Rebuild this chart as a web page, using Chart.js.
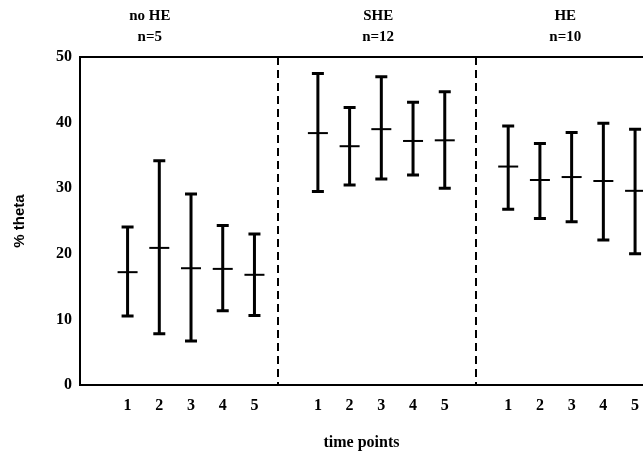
<!DOCTYPE html>
<html>
<head>
<meta charset="utf-8">
<script src="https://cdn.jsdelivr.net/npm/chart.js@4"></script>
<style>
html, body { margin: 0; padding: 0; background: #fff; }
#wrap { width: 643px; height: 455px; position: relative; }
</style>
</head>
<body>
<div id="wrap"><canvas id="chart"></canvas></div>
<script>
// ------------------------
// Data
// ------------------------
const groups = ["no HE", "SHE", "HE"];
const groupN = ["n=5", "n=12", "n=10"];
const groupLabelX = [1.7, 8.9, 14.8];
const timePoints = ["1", "2", "3", "4", "5"];
const xPositions = [1, 2, 3, 4, 5, 7, 8, 9, 10, 11, 13, 14, 15, 16, 17];
const dividers = [5.75, 12];
const means = [17.2, 20.9, 17.8, 17.7, 16.8, 38.4, 36.4, 39.0, 37.2, 37.3, 33.3, 31.25, 31.7, 31.1, 29.6];
const upper = [24.1, 34.2, 29.1, 24.3, 23.0, 47.5, 42.3, 47.0, 43.1, 44.7, 39.5, 36.8, 38.5, 39.9, 39.0];
const lower = [10.5, 7.8, 6.7, 11.3, 10.6, 29.5, 30.5, 31.4, 32.0, 30.0, 26.8, 25.4, 24.9, 22.1, 20.0];

const serif = "'Liberation Serif', 'Times New Roman', serif";

// --- dashed group dividers + top frame line ---
const framePlugin = {
    id: "frame",
    beforeDatasetsDraw(chart) {
        const { ctx, chartArea, scales: { x } } = chart;
        ctx.save();
        ctx.strokeStyle = "#000";
        ctx.lineWidth = 2;
        ctx.setLineDash([8, 5]);
        dividers.forEach(d => {
            const px = Math.round(x.getPixelForValue(d));
            ctx.beginPath();
            ctx.moveTo(px, chartArea.top);
            ctx.lineTo(px, chartArea.bottom);
            ctx.stroke();
        });
        ctx.setLineDash([]);
        ctx.beginPath();
        ctx.moveTo(chartArea.left, chartArea.top);
        ctx.lineTo(chartArea.right, chartArea.top);
        ctx.stroke();
        ctx.restore();
    },
};

// --- vertical error bars with caps ---
const errorBars = {
    id: "errorBars",
    afterDatasetsDraw(chart) {
        const { ctx, scales: { x, y } } = chart;
        ctx.save();
        ctx.strokeStyle = "#000";
        ctx.lineWidth = 3;
        xPositions.forEach((xv, i) => {
            const px = x.getPixelForValue(xv);
            const top = y.getPixelForValue(upper[i]);
            const bot = y.getPixelForValue(lower[i]);
            ctx.beginPath();
            ctx.moveTo(px, top);
            ctx.lineTo(px, bot);
            ctx.moveTo(px - 6, top);
            ctx.lineTo(px + 6, top);
            ctx.moveTo(px - 6, bot);
            ctx.lineTo(px + 6, bot);
            ctx.stroke();
        });
        ctx.restore();
    },
};

// --- group headings above the plot ---
const groupTitles = {
    id: "groupTitles",
    afterDraw(chart) {
        const { ctx, scales: { x } } = chart;
        ctx.save();
        ctx.fillStyle = "#000";
        ctx.font = "bold 15px " + serif;
        ctx.textAlign = "center";
        ctx.textBaseline = "middle";
        groups.forEach((g, i) => {
            const px = x.getPixelForValue(groupLabelX[i]);
            ctx.fillText(g, px, 16);
            ctx.fillText(groupN[i], px, 37);
        });
        ctx.restore();
    },
};

new Chart(document.getElementById("chart"), {
    type: "scatter",
    data: {
        datasets: [{
            label: "mean",
            data: xPositions.map((xv, i) => ({ x: xv, y: means[i] })),
            pointStyle: "line",
            radius: 10,
            borderWidth: 2,
            borderColor: "#000",
            backgroundColor: "#000",
            clip: false,
        }],
    },
    options: {
        responsive: true,
        maintainAspectRatio: false,
        animation: false,
        events: [],
        layout: { autoPadding: false, padding: { top: 57, right: 0, left: 0, bottom: 0 } },
        plugins: { legend: { display: false }, tooltip: { enabled: false } },
        scales: {
            x: {
                type: "linear",
                min: -0.5,
                max: 17.25,
                grid: { display: false, drawTicks: false },
                border: { display: true, color: "#000", width: 2 },
                afterBuildTicks: (axis) => { axis.ticks = xPositions.map(v => ({ value: v })); },
                afterFit: (axis) => {
                    axis.height = 70;
                    axis.paddingLeft = 0;
                    axis.paddingRight = 0;
                },
                ticks: {
                    autoSkip: false,
                    maxRotation: 0,
                    padding: 11,
                    color: "#000",
                    font: { family: serif, size: 16, weight: "bold" },
                    callback: (value, index) => timePoints[index % 5],
                },
                title: {
                    display: true,
                    text: "time points",
                    color: "#000",
                    font: { family: serif, size: 16, weight: "bold" },
                    padding: { top: 0, bottom: 3 },
                },
            },
            y: {
                min: 0,
                max: 50,
                grid: { display: false, drawTicks: false },
                border: { display: true, color: "#000", width: 2 },
                afterFit: (axis) => { axis.width = 80; },
                ticks: {
                    stepSize: 10,
                    padding: 8,
                    color: "#000",
                    font: { family: serif, size: 16, weight: "bold" },
                },
                title: {
                    display: true,
                    text: "% theta",
                    color: "#000",
                    font: { family: "'Liberation Sans', Arial, sans-serif", size: 15, weight: "bold" },
                    padding: { top: 11, bottom: 0 },
                },
            },
        },
    },
    plugins: [framePlugin, errorBars, groupTitles],
});
</script>
</body>
</html>
